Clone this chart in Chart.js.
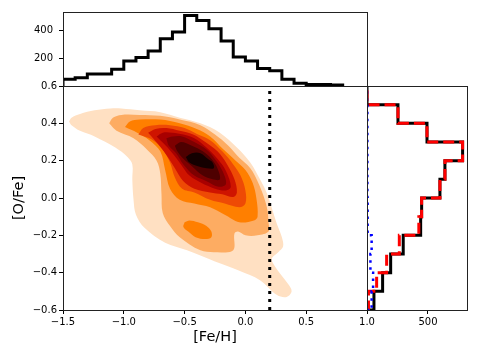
<!DOCTYPE html>
<html>
<head>
<meta charset="utf-8">
<script src="https://cdn.jsdelivr.net/npm/chart.js@4.4.0/dist/chart.umd.min.js"></script>
<style>
  body { margin: 0; background: #fff; }
  #wrap { position: relative; width: 479px; height: 359px; }
  #wrap canvas { position: absolute; left: 0; top: 0; }
</style>
</head>
<body>
<div id="wrap">
  <canvas id="mainChart" width="479" height="359"></canvas>
  <canvas id="topChart" width="479" height="359"></canvas>
  <canvas id="sideChart" width="479" height="359"></canvas>
</div>
<script>
// [Fe/H] histogram (top panel), 0.1 dex bins from -1.5
const feStart = -1.5;
const feBin = 0.1;
const feCounts = [48, 59, 86, 86, 121, 179, 205, 252, 340, 388, 507, 471, 412, 324, 209, 179, 126, 109, 48, 19, 10, 10, 8];

// [O/Fe] histograms (right panel), 0.1 dex bins from -0.6 to 0.6
const oStart = -0.6;
const oBin = 0.1;
const oCountsBlack = [57, 128, 194, 297, 440, 448, 598, 639, 784, 492, 254, 0];
const oCountsRed = [12, 79, 161, 265, 425, 448, 598, 639, 784, 492, 254, 0];
const oCountsBlue = [38, 50, 28, 38, 5, 5, 3, 3, 3, 3, 3, 0];

// vertical cut in [Fe/H]
const feCut = 0.2;

// density contours, [Fe/H, O/Fe] outlines, outermost first
const level1 = [[-1.45,0.41],[-1.43,0.43],[-1.36,0.45],[-1.24,0.47],[-1.11,0.48],[-1.02,0.48],[-0.87,0.47],[-0.70,0.46],[-0.54,0.43],[-0.37,0.40],[-0.21,0.35],[-0.07,0.27],[0.04,0.19],[0.12,0.10],[0.18,0.02],[0.22,-0.06],[0.26,-0.14],[0.30,-0.21],[0.31,-0.26],[0.27,-0.29],[0.22,-0.32],[0.22,-0.34],[0.28,-0.40],[0.35,-0.46],[0.38,-0.50],[0.34,-0.53],[0.26,-0.52],[0.12,-0.44],[-0.05,-0.39],[-0.25,-0.34],[-0.48,-0.28],[-0.66,-0.24],[-0.83,-0.16],[-0.90,-0.09],[-0.92,-0.01],[-0.93,0.10],[-0.93,0.18],[-0.97,0.22],[-1.07,0.27],[-1.24,0.33],[-1.36,0.36],[-1.43,0.39]];
const level2 = [[-1.12,0.40],[-1.09,0.43],[-1.02,0.445],[-0.87,0.445],[-0.70,0.44],[-0.54,0.42],[-0.37,0.39],[-0.25,0.34],[-0.14,0.28],[-0.05,0.215],[0.04,0.16],[0.10,0.09],[0.15,0.01],[0.18,-0.06],[0.19,-0.13],[0.19,-0.18],[0.10,-0.20],[0.00,-0.20],[-0.06,-0.18],[-0.09,-0.19],[-0.10,-0.28],[-0.23,-0.29],[-0.37,-0.28],[-0.54,-0.21],[-0.62,-0.15],[-0.68,-0.08],[-0.69,0.02],[-0.70,0.13],[-0.73,0.20],[-0.81,0.26],[-0.92,0.32],[-1.06,0.36]];
const level3 = [[-0.99,0.38],[-0.95,0.41],[-0.87,0.42],[-0.70,0.42],[-0.54,0.40],[-0.40,0.37],[-0.29,0.33],[-0.18,0.26],[-0.08,0.20],[0.00,0.15],[0.06,0.08],[0.09,0.00],[0.10,-0.10],[0.07,-0.12],[-0.05,-0.13],[-0.17,-0.09],[-0.29,-0.05],[-0.42,-0.03],[-0.54,-0.01],[-0.62,0.05],[-0.66,0.15],[-0.70,0.25],[-0.79,0.31],[-0.89,0.35]];
const level3b = [[-0.50,-0.13],[-0.46,-0.12],[-0.39,-0.13],[-0.32,-0.15],[-0.28,-0.18],[-0.28,-0.21],[-0.33,-0.22],[-0.41,-0.21],[-0.47,-0.18],[-0.51,-0.155]];
const level4 = [[-0.88,0.34],[-0.84,0.375],[-0.74,0.39],[-0.62,0.39],[-0.50,0.375],[-0.39,0.34],[-0.29,0.31],[-0.19,0.25],[-0.10,0.18],[-0.04,0.12],[0.00,0.04],[0.00,-0.03],[-0.05,-0.05],[-0.17,-0.03],[-0.29,-0.01],[-0.42,0.03],[-0.52,0.05],[-0.58,0.11],[-0.62,0.19],[-0.68,0.26],[-0.76,0.31],[-0.83,0.33]];
const level5 = [[-0.80,0.35],[-0.74,0.37],[-0.65,0.375],[-0.54,0.36],[-0.43,0.34],[-0.33,0.30],[-0.23,0.25],[-0.15,0.18],[-0.09,0.10],[-0.07,0.03],[-0.10,0.005],[-0.19,0.02],[-0.29,0.03],[-0.42,0.05],[-0.51,0.09],[-0.58,0.16],[-0.65,0.23],[-0.72,0.29]];
const level6 = [[-0.73,0.33],[-0.68,0.35],[-0.60,0.35],[-0.51,0.34],[-0.42,0.32],[-0.32,0.27],[-0.23,0.21],[-0.16,0.145],[-0.12,0.06],[-0.16,0.04],[-0.25,0.05],[-0.36,0.08],[-0.46,0.12],[-0.53,0.18],[-0.60,0.24],[-0.67,0.29]];
const level7 = [[-0.65,0.32],[-0.60,0.33],[-0.52,0.33],[-0.42,0.30],[-0.32,0.26],[-0.24,0.20],[-0.185,0.14],[-0.16,0.075],[-0.22,0.06],[-0.32,0.09],[-0.42,0.12],[-0.51,0.18],[-0.57,0.24],[-0.63,0.28]];
const level8 = [[-0.58,0.28],[-0.53,0.30],[-0.44,0.28],[-0.35,0.25],[-0.28,0.21],[-0.23,0.16],[-0.21,0.10],[-0.27,0.10],[-0.35,0.12],[-0.44,0.17],[-0.51,0.21],[-0.56,0.25]];
const level9 = [[-0.49,0.22],[-0.44,0.24],[-0.37,0.24],[-0.31,0.21],[-0.27,0.19],[-0.26,0.16],[-0.32,0.16],[-0.39,0.17],[-0.46,0.19]];

// tick labels
const feTicks = [-1.5, -1.0, -0.5, 0.0, 0.5, 1.0];
const oTicks = [-0.6, -0.4, -0.2, 0.0, 0.2, 0.4, 0.6];
const topTicks = [200, 400];
const sideTicks = [500];

Chart.defaults.font.family = 'DejaVu Sans';
Chart.defaults.font.size = 10;
Chart.defaults.color = '#000';

const fmt = v => (Math.abs(v) < 1e-9 ? 0 : v).toFixed(1).replace('-', '\u2212');
const setTicks = list => scale => { scale.ticks = list.map(v => ({ value: v })); };
const tickGrid = { display: true, drawOnChartArea: false, tickLength: 4, tickColor: '#000', tickWidth: 1 };

// spines around each panel
const framePlugin = {
  id: 'frame',
  afterDraw(chart) {
    const { ctx, chartArea: a } = chart;
    ctx.save();
    ctx.strokeStyle = '#222';
    ctx.lineWidth = 1;
    ctx.strokeRect(a.left + 0.5, a.top + 0.5, a.right - a.left, a.bottom - a.top);
    ctx.restore();
  }
};

function toXY(pts) {
  const out = pts.map(p => ({ x: p[0], y: p[1] }));
  out.push({ x: pts[0][0], y: pts[0][1] });
  return out;
}

// ---- main panel: filled contours + cut line ----
const contourList = [level1, level2, level3b, level3, level4, level5, level6, level7, level8, level9];
const contourColors = ['#ffe0c2', '#fdac62', '#ff7f00', '#ff7f00', '#ee4a05', '#cf1400', '#a80000', '#7e0000', '#4e0000', '#140000'];

const mainSets = contourList.map((pts, i) => ({
  data: toXY(pts),
  showLine: true,
  fill: 'shape',
  backgroundColor: contourColors[i],
  borderColor: 'rgba(0,0,0,0)',
  borderWidth: 0,
  pointRadius: 0,
  tension: 0.35,
  order: 100 - i
}));
mainSets.push({
  data: [{ x: feCut, y: oTicks[0] }, { x: feCut, y: oTicks[oTicks.length - 1] }],
  showLine: true,
  borderColor: '#000',
  borderWidth: 3,
  borderDash: [3, 5],
  pointRadius: 0,
  order: 0
});

new Chart(document.getElementById('mainChart'), {
  type: 'scatter',
  data: { datasets: mainSets },
  options: {
    responsive: false,
    animation: false,
    events: [],
    layout: { padding: { left: 0, top: 86, right: 112, bottom: 0 } },
    plugins: { legend: { display: false }, tooltip: { enabled: false } },
    scales: {
      x: {
        type: 'linear', min: -1.5, max: 1.0,
        afterBuildTicks: setTicks(feTicks),
        afterFit: s => { s.height = 49; },
        grid: tickGrid, border: { display: false },
        ticks: { padding: 2, maxRotation: 0, autoSkip: false, callback: v => fmt(v) },
        title: { display: true, text: '[Fe/H]', font: { size: 14.5 }, padding: { top: 0, bottom: 13 } }
      },
      y: {
        type: 'linear', min: -0.6, max: 0.6,
        afterBuildTicks: setTicks(oTicks),
        afterFit: s => { s.width = 63; },
        grid: tickGrid, border: { display: false },
        ticks: { padding: 2, autoSkip: false, callback: v => fmt(v) },
        title: { display: true, text: '[O/Fe]', font: { size: 14.5 }, padding: { top: 11, bottom: 0 } }
      }
    }
  },
  plugins: [framePlugin]
});

// ---- top panel: [Fe/H] step histogram ----
const topPts = [{ x: feStart, y: 0 }];
feCounts.forEach((c, i) => {
  topPts.push({ x: feStart + i * feBin, y: c }, { x: feStart + (i + 1) * feBin, y: c });
});
topPts.push({ x: feStart + feCounts.length * feBin, y: 0 });

new Chart(document.getElementById('topChart'), {
  type: 'scatter',
  data: { datasets: [{ data: topPts, showLine: true, borderColor: '#000', borderWidth: 3, pointRadius: 0 }] },
  options: {
    responsive: false,
    animation: false,
    events: [],
    layout: { padding: { left: 0, top: 11, right: 112, bottom: 273 } },
    plugins: { legend: { display: false }, tooltip: { enabled: false } },
    scales: {
      x: { type: 'linear', min: -1.5, max: 1.0, display: false },
      y: {
        type: 'linear', min: 0, max: 532, bounds: 'data',
        afterBuildTicks: setTicks(topTicks),
        afterFit: s => { s.width = 63; },
        grid: tickGrid, border: { display: false },
        ticks: { padding: 6, autoSkip: false }
      }
    }
  },
  plugins: [framePlugin]
});

// ---- right panel: [O/Fe] step histograms ----
function sidePts(counts) {
  const pts = [{ x: 0, y: oStart }];
  counts.forEach((c, i) => {
    pts.push({ x: c, y: oStart + i * oBin }, { x: c, y: oStart + (i + 1) * oBin });
  });
  pts.push({ x: 0, y: oStart + counts.length * oBin });
  return pts;
}

new Chart(document.getElementById('sideChart'), {
  type: 'scatter',
  data: {
    datasets: [
      { data: sidePts(oCountsBlack), showLine: true, borderColor: '#000', borderWidth: 3, pointRadius: 0, order: 3 },
      { data: sidePts(oCountsRed), showLine: true, borderColor: '#ff0000', borderWidth: 3, borderDash: [11, 5], pointRadius: 0, order: 2 },
      { data: sidePts(oCountsBlue), showLine: true, borderColor: '#0000ff', borderWidth: 2.5, borderDash: [2.5, 4.5], pointRadius: 0, order: 1 }
    ]
  },
  options: {
    responsive: false,
    animation: false,
    events: [],
    layout: { padding: { left: 367, top: 86, right: 12, bottom: 0 } },
    plugins: { legend: { display: false }, tooltip: { enabled: false } },
    scales: {
      x: {
        type: 'linear', min: 0, max: 820, bounds: 'data',
        afterBuildTicks: setTicks(sideTicks),
        afterFit: s => { s.height = 49; },
        grid: tickGrid, border: { display: false },
        ticks: { padding: 2, maxRotation: 0, autoSkip: false }
      },
      y: { type: 'linear', min: -0.6, max: 0.6, display: false }
    }
  },
  plugins: [framePlugin]
});
</script>
</body>
</html>
